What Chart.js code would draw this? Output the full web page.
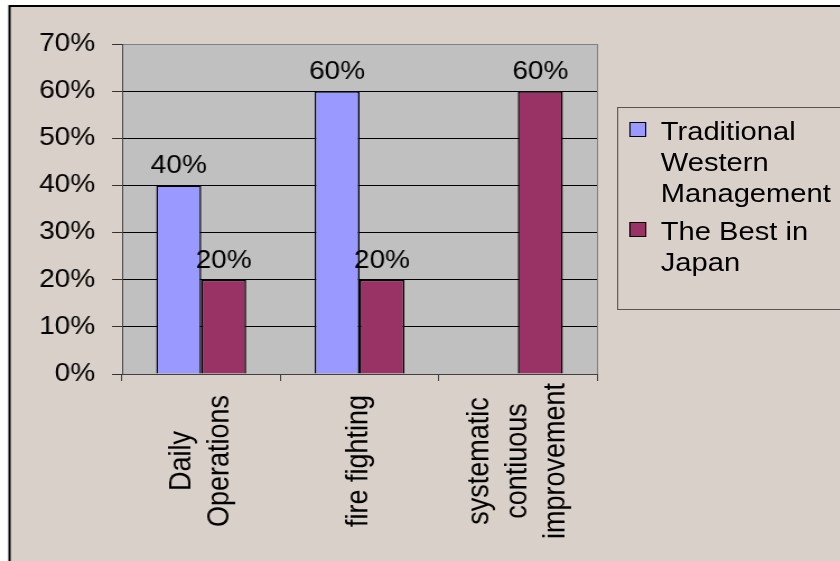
<!DOCTYPE html>
<html>
<head>
<meta charset="utf-8">
<script src="https://cdn.jsdelivr.net/npm/chart.js@4"></script>
<style>
    body { margin: 0; background: #fff; overflow: hidden; }
    #wrap { position: relative; width: 750px; height: 561px; transform: scaleX(1.12); transform-origin: 0 0; }
    #legend {
        position: absolute; left: 551px; top: 107px; width: 220px; height: 203px;
        border: 1px solid #555; box-sizing: border-box; padding-top: 8px;
        font: 26px 'Liberation Sans', Arial, sans-serif; line-height: 31px; color: #000;
    }
    .item { display: flex; align-items: flex-start; margin-bottom: 7px; }
    .box { width: 13px; height: 13px; border: 1px solid #000; margin: 6px 13px 0 10px; flex: none; }
    .txt { width: 165px; }
</style>
</head>
<body>
<div id="wrap">
    <canvas id="chart" width="750" height="561"></canvas>
    <div id="legend"></div>
</div>
<script>
const categories = [['Daily', 'Operations'], ['fire fighting'], ['systematic', 'contiuous', 'improvement']];
const seriesNames = ['Traditional Western Management', 'The Best in Japan'];
const westernValues = [40, 60, 0];
const japanValues = [20, 20, 60];
const seriesColors = ['#9999ff', '#993366'];
const yMax = 70;
const yStep = 10;

const FONT = "'Liberation Sans', Arial, sans-serif";

// page background, outer frame and grey plot area
const backdrop = {
    id: 'backdrop',
    beforeDraw(chart) {
        const ctx = chart.ctx, a = chart.chartArea;
        ctx.save();
        ctx.fillStyle = '#fff';
        ctx.fillRect(0, 0, chart.width, chart.height);
        ctx.fillStyle = '#d9d0c9';
        ctx.fillRect(8.5, 6, chart.width, chart.height);
        ctx.strokeStyle = '#000';
        ctx.lineWidth = 2;
        ctx.beginPath();
        ctx.moveTo(8.5, chart.height);
        ctx.lineTo(8.5, 6);
        ctx.lineTo(chart.width, 6);
        ctx.stroke();
        ctx.fillStyle = '#c0c0c0';
        ctx.fillRect(a.left, a.top, a.right - a.left, a.bottom - a.top);
        ctx.restore();
    },
    beforeDatasetsDraw(chart) {
        const ctx = chart.ctx, a = chart.chartArea;
        ctx.save();
        ctx.strokeStyle = '#808080';
        ctx.lineWidth = 1;
        ctx.beginPath();
        ctx.moveTo(Math.round(a.right) + 0.5, a.top);
        ctx.lineTo(Math.round(a.right) + 0.5, a.bottom);
        ctx.stroke();
        ctx.restore();
    }
};

// percent labels above the bars
const valueLabels = {
    id: 'valueLabels',
    afterDatasetsDraw(chart) {
        const ctx = chart.ctx;
        ctx.save();
        ctx.font = '25px ' + FONT;
        ctx.fillStyle = '#000';
        ctx.textAlign = 'center';
        ctx.textBaseline = 'alphabetic';
        chart.data.datasets.forEach((ds, i) => {
            chart.getDatasetMeta(i).data.forEach((bar, j) => {
                if (!ds.data[j]) return;
                ctx.fillText(ds.data[j] + '%', bar.x, bar.y - 12);
            });
        });
        ctx.restore();
    }
};

// vertical category names, lines centred on each other
const xLabels = {
    id: 'xLabels',
    afterDraw(chart) {
        const ctx = chart.ctx, xs = chart.scales.x;
        ctx.save();
        ctx.font = '27px ' + FONT;
        ctx.fillStyle = '#000';
        ctx.textAlign = 'center';
        ctx.textBaseline = 'middle';
        chart.data.labels.forEach((lines, i) => {
            ctx.save();
            ctx.translate(xs.getPixelForValue(i), 461);
            ctx.rotate(-Math.PI / 2);
            lines.forEach((line, j) => {
                ctx.fillText(line, 0, (j - (lines.length - 1) / 2) * 34);
            });
            ctx.restore();
        });
        ctx.restore();
    }
};

const chart = new Chart(document.getElementById('chart'), {
    type: 'bar',
    data: {
        labels: categories,
        datasets: [westernValues, japanValues].map((vals, i) => ({
            label: seriesNames[i],
            data: vals,
            backgroundColor: seriesColors[i],
            borderColor: '#000',
            borderWidth: 1.5,
            categoryPercentage: 0.568,
            barPercentage: 1
        }))
    },
    options: {
        responsive: false,
        animation: false,
        events: [],
        layout: { padding: { top: 44, right: 217, left: 0, bottom: 0 } },
        plugins: { legend: { display: false }, tooltip: { enabled: false } },
        scales: {
            x: {
                afterFit: (s) => { s.height = 187; },
                grid: { offset: true, drawOnChartArea: false, color: '#404040', tickLength: 7 },
                border: { color: '#404040', width: 1 },
                ticks: { display: false }
            },
            y: {
                min: 0,
                max: yMax,
                afterFit: (s) => { s.width = 109; },
                grid: {
                    color: (c) => c.tick && c.tick.value === yMax ? '#808080' : '#000',
                    tickColor: '#333',
                    tickLength: 9
                },
                border: { color: '#404040', width: 1 },
                ticks: {
                    stepSize: yStep,
                    padding: 15,
                    color: '#000',
                    font: { family: FONT, size: 25 },
                    callback: (v) => v + '%'
                }
            }
        }
    },
    plugins: [backdrop, valueLabels, xLabels]
});

// legend box built from the datasets
const legend = document.getElementById('legend');
chart.data.datasets.forEach(ds => {
    const item = document.createElement('div');
    item.className = 'item';
    const box = document.createElement('div');
    box.className = 'box';
    box.style.background = ds.backgroundColor;
    const txt = document.createElement('div');
    txt.className = 'txt';
    txt.innerText = ds.label;
    item.appendChild(box);
    item.appendChild(txt);
    legend.appendChild(item);
});
</script>
</body>
</html>
